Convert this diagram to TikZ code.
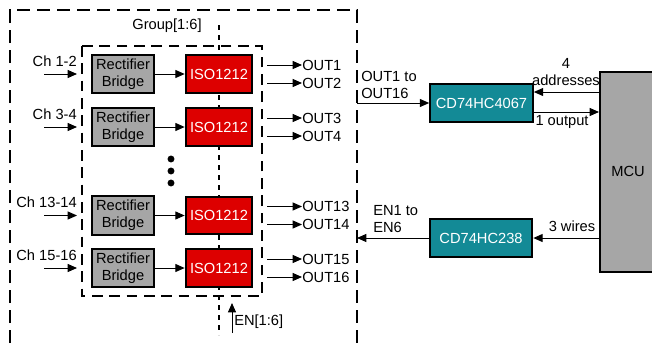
\documentclass[tikz,border=0pt]{standalone}
\usepackage{fontspec}
\setmainfont{Liberation Sans}
\usetikzlibrary{arrows.meta,positioning,calc}
\definecolor{isored}{HTML}{DD0000}
\definecolor{muxteal}{HTML}{138A96}
\definecolor{bridgegray}{HTML}{A6A6A6}
\tikzset{
  bridgebox/.style ={draw,line width=1.5pt,fill=bridgegray,align=center,
                      minimum width=47pt,minimum height=29pt,inner sep=0pt},
  isobox/.style    ={draw,line width=1.5pt,fill=isored,text=white,
                      minimum width=50pt,minimum height=28pt,inner sep=0pt},
  chipbox/.style   ={draw,line width=1.5pt,fill=muxteal,text=white,
                      minimum width=77pt,minimum height=29pt,inner sep=0pt},
  mcubox/.style    ={draw,line width=1.5pt,fill=bridgegray,
                      minimum width=42pt,minimum height=150pt,inner sep=0pt},
  flow/.style      ={-{Triangle[length=7pt,width=6pt]},line width=0.75pt},
  grpline/.style   ={line width=1.5pt,dash pattern=on 10pt off 5pt},
  cardline/.style  ={line width=1.5pt,dash pattern=on 8pt off 5pt},
  enline/.style    ={line width=1.2pt,dash pattern=on 3.5pt off 4pt},
}
\begin{document}
\begin{tikzpicture}[x=0.75pt,y=-0.75pt,
  font=\fontsize{11}{13}\selectfont,
  lbl/.style={inner sep=0pt,align=left}]
\useasboundingbox (0,0) rectangle (652,343);
% ---- group frame, card frame and enable line ----
\draw[grpline] (10,343) -- (10,10) -- (357,10) -- (357,343);
\node[lbl] (grp) at (167,26) {Group[1:6]};
\draw[enline] (219,25) -- (219,335);
\draw[cardline] (82,46) rectangle (262,296);
% ---- channel rows ----
\foreach \y/\k/\ch/\oa/\ob in {74/1/1-2/1/2,127/2/3-4/3/4,
                               215.5/3/13-14/13/14,268/4/15-16/15/16}{
  \node[bridgebox] (br\k)  at (123,\y) {Rectifier\\Bridge};
  \node[isobox]    (iso\k) at (219,\y) {ISO1212};
  \node[lbl,anchor=east] (ch\k) at (77,\y-13) {Ch \ch};
  \coordinate (chin\k)  at (44,\y);
  \coordinate (chend\k) at (77,\y);
  \draw[flow] (chin\k) -- (chend\k);
  \draw[flow] (br\k.east) -- (iso\k.west);
  \coordinate (oa\k) at (267,\y-9);
  \coordinate (ob\k) at (267,\y+9);
  \node[lbl,anchor=west] (outa\k) at (302,\y-9) {OUT\oa};
  \node[lbl,anchor=west] (outb\k) at (302,\y+9) {OUT\ob};
  \draw[flow] (oa\k) -- (outa\k.west);
  \draw[flow] (ob\k) -- (outb\k.west);
}
\foreach \y in {159,171,183} \fill (171,\y) circle[radius=2.6pt];
% ---- enable input ----
\coordinate (enin) at (232,333);
\coordinate (enend) at (232,303);
\draw[flow] (enin) -- (enend);
\node[lbl,anchor=west] (enlbl) at (234,322) {EN[1:6]};
% ---- mux, decoder and MCU ----
\node[chipbox] (mux4067) at (481.5,103) {CD74HC4067};
\node[chipbox] (dec238)  at (481,238)   {CD74HC238};
\node[mcubox]  (mcu)     at (628,171.5) {MCU};
\coordinate (grpout) at (357,103);
\coordinate (grpen)  at (357,238);
\draw[flow] (grpout) -- (mux4067.west);
\node[lbl,anchor=west] (outlbl) at (361,85) {OUT1 to\\OUT16};
\draw[flow] ($(mcu.west|-mux4067)+(0,-11)$) -- ($(mux4067.east)+(0,-11)$);
\node[lbl,align=center] (addr) at (566,72) {4\\addresses};
\draw[flow] ($(mux4067.east)+(0,9)$) -- ($(mcu.west|-mux4067)+(0,9)$);
\node[lbl] (onelbl) at (562,122) {1 output};
\draw[flow] (mcu.west|-dec238) -- (dec238.east);
\node[lbl] (wires) at (572,226) {3 wires};
\draw[flow] (dec238.west) -- (grpen);
\node[lbl,anchor=west] (enout) at (373,219) {EN1 to\\EN6};
\end{tikzpicture}
\end{document}
